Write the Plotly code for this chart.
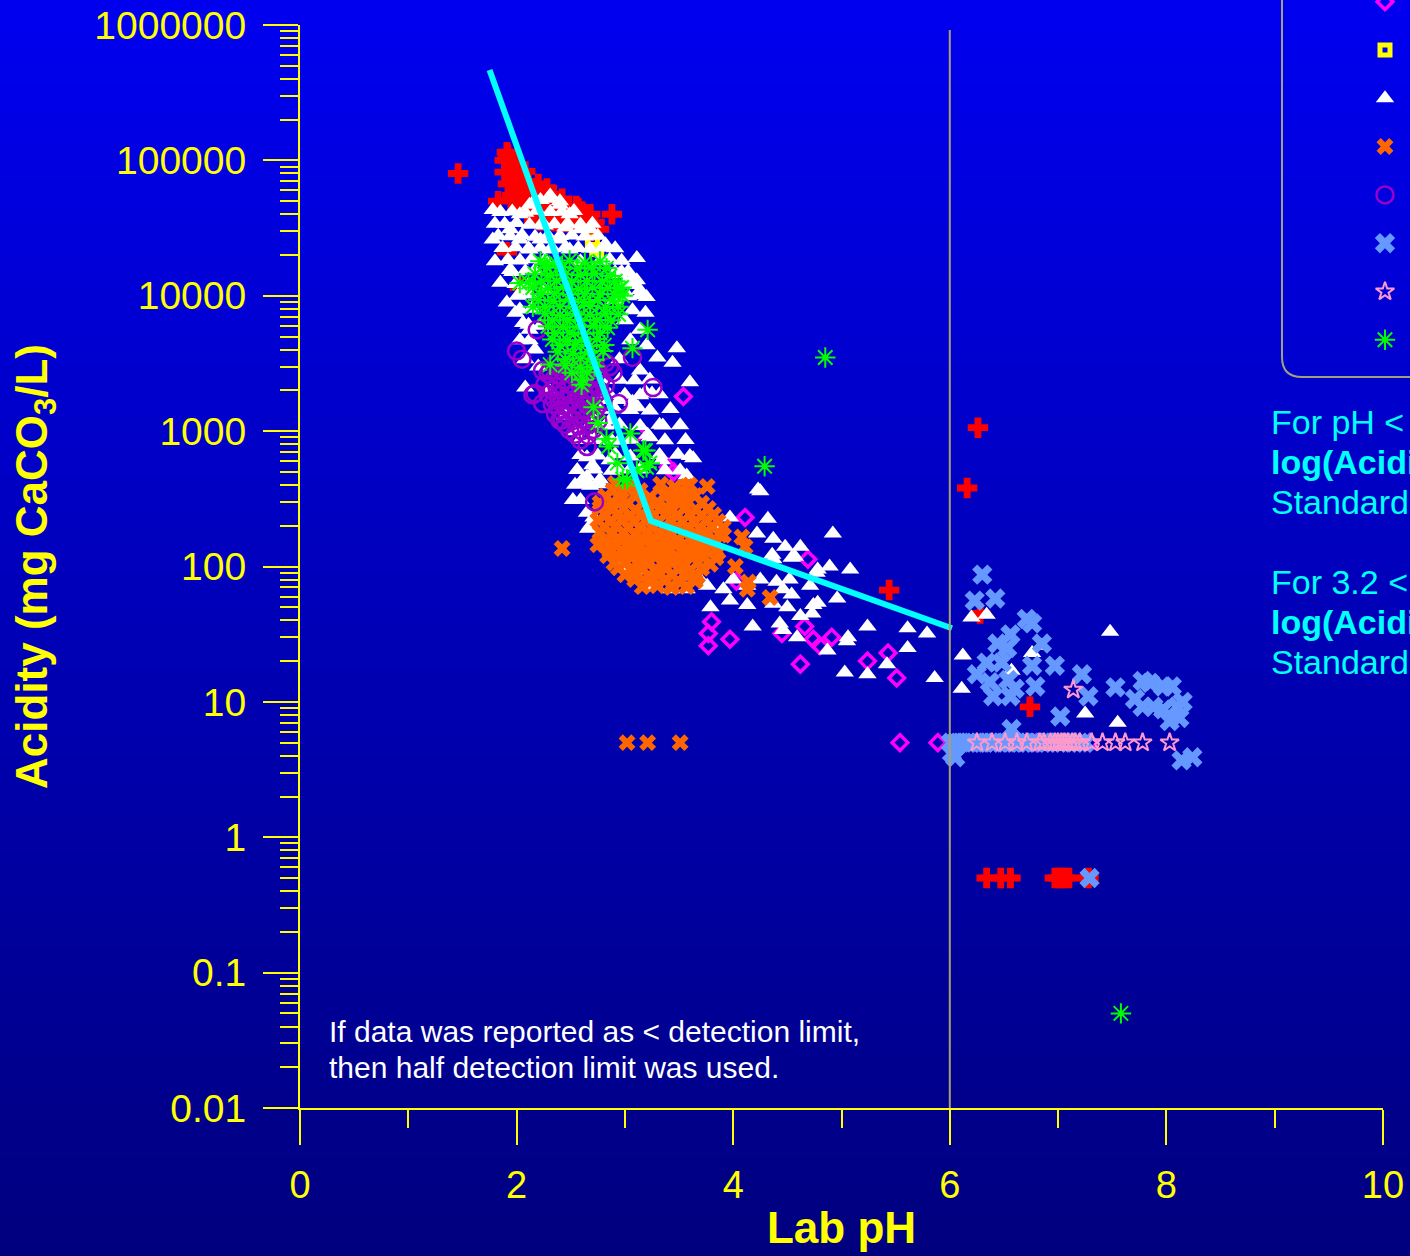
import plotly.graph_objects as go

# ---------------- data (Lab pH, Acidity mg CaCO3/L) ----------------
red_ph = [1.46, 1.91, 1.92, 1.95, 1.98, 2.02, 2.05, 2.00, 2.08, 2.12, 2.15, 2.20, 2.25, 2.30, 2.35, 2.40,
          2.45, 2.50, 2.55, 2.60, 2.65, 2.02, 2.10, 1.97, 2.10, 2.18, 1.83, 1.91, 2.03, 2.88, 2.70, 2.62,
          1.89, 1.96, 1.89, 1.99, 2.08, 1.92, 2.01, 2.11, 2.20, 1.96, 2.05, 2.14, 2.23, 2.33,
          2.01, 2.11, 2.20, 2.29, 2.38, 2.47, 2.57, 2.22, 2.35, 2.49, 2.63, 2.72,
          2.28, 2.42, 2.55, 2.68, 2.76,
          6.26, 6.16, 5.44, 6.74, 6.28, 6.34, 6.47, 6.56, 6.97, 7.00, 7.03, 7.06, 7.10, 7.28]
red_ac = [80000, 115000, 110000, 95000, 85000, 75000, 70000, 62000, 60000, 55000, 50000, 48000, 45000,
          42000, 40000, 38000, 35000, 40000, 36000, 42000, 33000, 45000, 40000, 52000, 70000, 58000, 50000,
          21000, 11500, 40000, 30000, 36000,
          100000, 98000, 82000, 81000, 83000, 67000, 68000, 66000, 67000, 55000, 56000, 54000, 55000, 56000,
          44500, 45000, 44000, 44500, 45500, 44000, 44500, 36000, 35500, 36500, 36000, 35000,
          62000, 52000, 46000, 40000, 31000,
          1060, 380, 67, 9.2, 45, 0.5, 0.5, 0.5, 0.5, 0.5, 0.5, 0.5, 0.5, 0.5]

mag_ph = [3.54, 3.11, 3.40, 3.45, 4.11, 4.69, 3.80, 3.77, 3.97, 3.77, 4.66, 4.74, 4.91, 4.62, 5.24, 4.45,
          4.80, 5.43, 5.51, 4.03, 5.54, 5.89, 6.30, 6.80, 7.29]
mag_ac = [1800, 960, 540, 500, 230, 113, 39, 32, 29, 26, 36, 29, 30, 19, 20, 32, 26, 23, 15, 78, 5, 5, 5, 5, 5]

ylw_ph = [2.74, 2.70]
ylw_ac = [22000, 25000]

wht_ph = [1.78, 1.80, 1.78, 1.80, 1.85, 1.91, 1.99, 2.06, 2.08,
          1.94, 2.03, 2.12, 2.22, 2.31, 2.40, 2.49, 2.59, 2.68, 2.82, 2.77,
          2.03, 2.12, 2.22, 2.31, 2.40, 2.49, 2.59, 2.26, 2.45, 2.17, 2.08, 2.26, 1.94,
          3.11, 2.97, 3.11, 3.14, 3.20, 2.95, 3.07, 3.19, 3.30, 3.48, 3.44, 3.60, 3.19, 3.25, 3.07, 3.12,
          3.35, 3.23, 3.63, 3.57, 3.34,
          4.23, 3.97, 4.32, 4.22, 4.92, 3.88, 4.37, 4.48, 4.62, 4.57, 4.37, 5.08, 4.89, 4.77, 4.52, 4.40,
          4.25, 4.13, 4.00, 3.91, 3.76, 3.67, 3.57, 3.42, 3.28,
          3.79, 3.97, 4.13, 4.37, 4.50, 4.62, 4.74, 4.96, 4.18, 4.43, 4.46, 4.59, 4.87, 5.05, 5.24, 3.02, 3.11,
          2.61, 2.52, 2.71, 2.68, 4.25, 4.54, 4.36, 4.46, 4.54, 4.78, 4.73, 4.78, 4.71, 5.06, 5.03, 5.24,
          5.61, 5.79, 5.61, 5.42, 5.86, 6.11, 6.12, 6.20, 6.34, 6.76, 6.57, 6.85, 7.48, 7.25, 7.55,
          3.21, 2.65, 2.70, 2.59, 2.65, 2.59, 2.70, 2.98, 3.26,
          2.77, 2.86, 2.95, 2.77, 2.86, 2.95, 3.05, 3.14, 2.77, 2.68, 2.82, 2.95, 3.05, 3.14, 3.00, 2.91,
          2.95, 2.72, 2.03, 2.08, 2.17, 2.12, 3.14, 3.20, 2.65, 2.66,
          2.17, 2.29, 2.40,
          1.85, 1.96, 2.08, 2.19, 2.31, 2.42, 2.53,
          1.89, 2.00, 2.12, 2.23, 2.35, 2.47, 2.59, 2.70,
          1.83, 1.94, 2.05, 2.17, 2.29, 2.40, 2.51, 2.63, 2.75,
          1.87, 1.99, 2.11, 2.22, 2.33, 2.45, 2.57, 2.68, 2.80, 2.91,
          1.92, 2.03, 2.14, 2.26, 2.86, 2.97,
          1.96, 2.08, 2.91, 3.03,
          1.99, 2.11, 3.00, 3.09,
          2.01, 2.12, 3.03, 3.14,
          2.03, 2.14, 3.07, 2.11, 2.22, 2.12,
          2.82, 2.95, 3.09, 3.23,
          2.86, 3.00, 3.14, 3.32,
          2.77, 2.91, 3.05, 3.23, 3.42,
          2.68, 2.82, 2.95, 3.14, 3.32, 3.51,
          2.59, 2.72, 2.88, 3.05, 3.37, 3.56,
          2.59, 2.75, 2.91, 3.32, 3.49, 3.60,
          2.56, 2.72, 2.88, 3.05, 3.37, 3.51,
          2.54, 2.68, 2.77,
          2.20, 2.30, 2.45, 2.55]
wht_ac = [43000, 34000, 26000, 18000, 12500, 8900, 7500, 6300, 2100,
          31000, 40000, 47000, 51000, 55000, 47000, 40000, 31000, 31000, 24000, 18000,
          26000, 22000, 26000, 22000, 26000, 22000, 18000, 33000, 32000, 15500, 11000, 11000, 15500,
          19000, 15000, 13000, 11000, 9800, 14500, 13500, 7500, 3500, 4100, 3200, 2300, 1950, 1900, 1650, 1500,
          1100, 900, 630, 470, 610,
          370, 230, 225, 175, 175, 195, 160, 140, 140, 118, 113, 95, 100, 90, 80, 77,
          80, 72, 80, 68, 72, 85, 68, 68, 72,
          50, 56, 52, 53, 50, 43, 52, 58, 36, 38, 34, 30, 24, 28, 36, 97, 94,
          440, 310, 230, 200, 360, 116, 122, 68, 62, 54, 45, 95, 72, 30, 16.5, 16,
          35, 32, 25, 19, 15, 12.5, 22, 42, 44, 23, 17, 26, 33, 8.2, 7.0,
          940, 640, 560, 410, 460, 310, 195, 108, 72,
          1700, 1200, 860, 860, 610, 520, 650, 520, 440, 860, 2400, 3400, 4700, 5600, 6600, 9300,
          1700, 1200, 4700, 3400, 4000, 5600, 2800, 4300, 250, 190,
          51000, 52000, 50000,
          41600, 42000, 41000, 42500, 41500, 41800, 42200,
          33900, 34500, 33500, 34000, 33800, 34200, 33600, 34100,
          27700, 27500, 28000, 27300, 27800, 27600, 27900, 27400, 27700,
          22500, 22800, 22300, 22600, 22400, 22700, 22500, 22200, 22600, 22400,
          18400, 18200, 18600, 18300, 18500, 18100,
          15000, 15200, 14900, 15100,
          12200, 12100, 12300, 12000,
          10000, 10200, 9900, 10100,
          7900, 8000, 7800, 6100, 6000, 4700,
          2390, 2400, 2380, 2410,
          1850, 1860, 1840, 1870,
          1440, 1450, 1430, 1420, 1460,
          1110, 1100, 1120, 1090, 1115, 1105,
          860, 870, 850, 865, 855, 860,
          667, 660, 675, 665, 670, 655,
          517, 520, 510, 525, 515, 512,
          401, 395, 405,
          3000, 2000, 1300, 1000]

org_ph = [2.42, 3.02, 3.21, 3.51, 3.76, 3.57, 3.91, 4.08, 4.11, 4.02, 4.14, 4.34, 3.43, 2.75, 2.89, 4.13,
          2.91, 3.05, 3.33, 3.46, 3.60,
          2.82, 2.95, 3.09, 3.23, 3.37, 3.51, 3.65,
          2.77, 2.88, 2.99, 3.10, 3.21, 3.32, 3.43, 3.55, 3.66, 3.77,
          2.75, 2.86, 2.97, 3.08, 3.19, 3.31, 3.42, 3.53, 3.64, 3.75, 3.86,
          2.77, 2.88, 2.99, 3.10, 3.21, 3.32, 3.43, 3.55, 3.66, 3.77, 3.88,
          2.81, 2.92, 3.03, 3.14, 3.25, 3.36, 3.47, 3.58, 3.69, 3.80,
          2.84, 2.95, 3.07, 3.18, 3.29, 3.40, 3.51, 3.62, 3.73, 3.84,
          2.94, 3.05, 3.16, 3.27, 3.38, 3.49, 3.60, 3.71,
          3.09, 3.23, 3.37, 3.51, 3.65,
          2.97, 3.14, 3.40, 3.53,
          2.77, 2.88, 3.03, 3.16, 3.30, 3.43, 3.57, 3.71,
          2.82, 2.94, 3.05, 3.16, 3.27, 3.38, 3.49, 3.60, 3.71, 3.82,
          2.81, 2.92, 3.03, 3.14, 3.25, 3.36, 3.47, 3.58, 3.69, 3.80, 3.91,
          2.83, 2.94, 3.05, 3.16, 3.27, 3.38, 3.49, 3.60, 3.71, 3.82,
          2.86, 2.97, 3.08, 3.19, 3.31, 3.42, 3.53, 3.64, 3.75, 3.86,
          2.90, 3.01, 3.12, 3.23, 3.34, 3.45, 3.56, 3.67, 3.79,
          3.00, 3.11, 3.22, 3.33, 3.44, 3.55, 3.67,
          3.16, 3.30, 3.43, 3.57]
org_ac = [136, 5, 5, 5, 390, 390, 170, 165, 140, 100, 77, 59, 72, 145, 365, 68,
          410, 395, 405, 385, 400,
          330, 320, 335, 325, 330, 320, 335,
          270, 262, 268, 260, 272, 265, 260, 270, 262, 268,
          220, 214, 222, 215, 219, 213, 221, 216, 212, 220, 215,
          180, 175, 178, 173, 181, 176, 172, 179, 174, 177, 171,
          146, 142, 147, 141, 145, 143, 148, 140, 144, 146,
          120, 116, 119, 115, 121, 117, 114, 120, 118, 116,
          98, 95, 97, 94, 99, 96, 93, 97,
          80, 77, 79, 76, 78,
          361, 365, 358, 362,
          295, 298, 292, 296, 300, 294, 297, 293,
          241, 244, 238, 242, 240, 245, 239, 243, 237, 241,
          196, 199, 193, 197, 195, 198, 194, 196, 192, 197, 195,
          160, 162, 158, 161, 159, 163, 157, 160, 162, 158,
          130, 132, 128, 131, 129, 133, 127, 130, 132, 128,
          106, 108, 104, 107, 105, 109, 103, 106, 104,
          87, 89, 85, 88, 86, 88, 85,
          71, 72, 70, 71]

pur_ph = [2.19, 2.33, 2.00, 2.05, 2.17, 2.24, 2.82, 2.89, 3.26, 2.94, 3.07, 2.86, 2.72, 2.15, 2.24, 2.40,
          2.59, 2.65,
          2.35, 2.49, 2.63,
          2.29, 2.40, 2.51, 2.62, 2.73,
          2.26, 2.37, 2.48, 2.59, 2.71, 2.82,
          2.29, 2.40, 2.51, 2.62, 2.73,
          2.33, 2.44, 2.55, 2.66, 2.77,
          2.36, 2.47, 2.59, 2.70,
          2.45, 2.57, 2.68,
          2.54, 2.66,
          2.31, 2.42, 2.53, 2.64, 2.75,
          2.34, 2.45, 2.56, 2.67, 2.78,
          2.33, 2.44, 2.55, 2.66, 2.77,
          2.35, 2.47, 2.58, 2.69, 2.80,
          2.40, 2.51, 2.62, 2.73,
          2.42, 2.53, 2.64, 2.75,
          2.49, 2.60, 2.71]
pur_ac = [5600, 6600, 3900, 3400, 1900, 2800, 3200, 2700, 2100, 1600, 3500, 3000, 300, 1850, 1600, 1200,
          860, 770,
          3100, 3000, 3150,
          2650, 2550, 2620, 2580, 2640,
          2200, 2150, 2230, 2170, 2210, 2180,
          1870, 1830, 1860, 1840, 1880,
          1580, 1540, 1570, 1550, 1590,
          1330, 1300, 1340, 1310,
          1120, 1100, 1130,
          950, 930,
          2800, 2780, 2830, 2790, 2810,
          2400, 2380, 2420, 2390, 2410,
          2000, 2020, 1980, 2010, 1990,
          1700, 1690, 1720, 1710, 1680,
          1430, 1440, 1420, 1450,
          1210, 1200, 1220, 1190,
          1020, 1010, 1030]

blu_ph = [6.30, 6.23, 6.42, 6.71, 6.76, 6.56, 6.53, 6.44, 6.85, 6.34, 6.48, 6.76, 6.97, 6.25, 6.37, 6.54,
          6.60, 6.40, 6.56, 6.79, 7.22, 7.28, 7.53, 7.02, 6.57, 7.71, 7.78, 7.85, 7.78, 7.88, 7.97, 8.05,
          7.97, 8.10, 8.15, 8.03, 8.12, 8.14, 8.24, 6.02, 6.05, 7.29,
          6.01, 6.05, 6.08, 6.13, 6.17, 6.20, 6.26, 6.30, 6.33, 6.38, 6.42, 6.47, 6.50, 6.55, 6.60, 6.63,
          6.68, 6.72, 6.77, 6.80, 6.86, 6.90, 6.95, 7.00, 7.04, 7.10, 7.15, 7.20, 7.25]
blu_ac = [87, 56, 58, 41, 38, 31.5, 25, 27, 27, 19.5, 19.5, 18.5, 18.5, 16, 14, 14.5,
          12.5, 11, 11, 13, 16, 11, 12.8, 7.8, 6.3, 10.5, 14.3, 13.8, 9.2, 9.2, 13, 13,
          8.8, 9.2, 10, 7.2, 7.6, 3.7, 3.9, 4.2, 3.9, 0.5,
          5, 5, 5, 5, 5, 5, 5, 5, 5, 5, 5, 5, 5, 5, 5, 5,
          5, 5, 5, 5, 5, 5, 5, 5, 5, 5, 5, 5, 5]

pnk_ph = [6.25, 6.39, 6.51, 6.62, 6.71, 6.83, 6.87, 6.93, 6.97, 7.00, 7.03, 7.06, 7.09, 7.13, 7.16, 7.20,
          7.31, 7.41, 7.53, 7.62, 7.78, 8.03, 7.14]
pnk_ac = [5, 5, 5, 5, 5, 5, 5, 5, 5, 5, 5, 5, 5, 5, 5, 5,
          5, 5, 5, 5, 5, 5, 12.3]

grn_ph = [4.85, 4.29, 7.58, 3.21, 2.97, 3.07, 2.71, 2.75, 2.93, 3.19, 3.20, 2.98, 3.05, 2.85, 2.11, 2.15,
          2.26, 2.31, 2.61, 2.60, 2.83, 3.02, 3.17, 3.23, 3.11, 2.03, 2.98,
          2.22, 2.36, 2.49, 2.63, 2.77,
          2.17, 2.31, 2.45, 2.59, 2.72, 2.86,
          2.15, 2.29, 2.43, 2.57, 2.70, 2.84, 2.95,
          2.20, 2.34, 2.48, 2.62, 2.75, 2.89,
          2.26, 2.40, 2.54, 2.68, 2.82, 2.94,
          2.29, 2.43, 2.57, 2.71, 2.84,
          2.33, 2.47, 2.60, 2.74,
          2.38, 2.52, 2.66, 2.80,
          2.45, 2.59, 2.72,
          2.28, 2.42, 2.56, 2.69, 2.83,
          2.23, 2.37, 2.51, 2.65, 2.79, 2.91,
          2.22, 2.35, 2.49, 2.63, 2.77, 2.90,
          2.26, 2.40, 2.54, 2.68, 2.82, 2.94,
          2.33, 2.47, 2.60, 2.74, 2.87,
          2.35, 2.49, 2.63, 2.77,
          2.40, 2.54, 2.68, 2.81,
          2.45, 2.59, 2.72,
          2.51, 2.65]
grn_ac = [3500, 550, 0.05, 5600, 11500, 4100, 1500, 1150, 580, 720, 540, 440, 960, 770, 12600, 8300,
          17000, 3100, 2400, 2200, 880, 440, 720, 580, 510, 12400, 10000,
          18000, 17500, 18200, 17600, 17900,
          14500, 14100, 14400, 14200, 14600, 14000,
          11500, 11300, 11600, 11200, 11500, 11400, 11300,
          9300, 9100, 9400, 9000, 9300, 9200,
          7400, 7200, 7350, 7250, 7400, 7300,
          5950, 5850, 5900, 6000, 5800,
          4750, 4650, 4700, 4800,
          3850, 3750, 3800, 3900,
          3050, 2950, 3000,
          16100, 16300, 15900, 16200, 16000,
          12800, 12900, 12700, 12850, 12750, 12800,
          10300, 10400, 10200, 10350, 10250, 10300,
          8300, 8350, 8250, 8400, 8200, 8300,
          6600, 6650, 6550, 6620, 6580,
          5300, 5350, 5250, 5320,
          4300, 4350, 4250, 4320,
          3400, 3450, 3380,
          2700, 2720]

trend_ph = [1.75, 3.24, 6.02]
trend_ac = [466000, 217, 35]

y_tickvals = [0.01, 0.1, 1, 10, 100, 1000, 10000, 100000, 1000000]
y_ticktext = ["0.01", "0.1", "1", "10", "100", "1000", "10000", "100000", "1000000"]
x_tickvals = [0, 2, 4, 6, 8, 10]
x_ticktext = ["0", "2", "4", "6", "8", "10"]

note_lines = ["If data was reported as < detection limit,", "then half detection limit was used."]
fit_lines = ["For pH < 3.2:", "<b>log(Acidity) = 9.54 - 2.22 pH</b>", "Standard error",
             "", "For 3.2 < pH < 6:", "<b>log(Acidity) = 3.25 - 0.29 pH</b>", "Standard error"]

# ---------------- styles / layout ----------------
FONT = "Liberation Sans, Arial, Helvetica, sans-serif"
YELLOW = "#FFFF00"
series = [
    # name, x, y, symbol, size, colour, line width
    ("red", red_ph, red_ac, "cross", 17, "#FF0000", 0),
    ("magenta", mag_ph, mag_ac, "diamond-open", 12, "#FF00FF", 3.5),
    ("yellow", ylw_ph, ylw_ac, "square-open", 10, "#FFFF00", 5),
    ("white", wht_ph, wht_ac, "triangle-up", 16, "#FFFFFF", 0),
    ("orange", org_ph, org_ac, "x", 15, "#FF6600", 0),
    ("purple", pur_ph, pur_ac, "circle-open", 17, "#9900CC", 2.5),
    ("blue", blu_ph, blu_ac, "x", 18, "#6699FF", 0),
    ("pink", pnk_ph, pnk_ac, "star-open", 14, "#FF99CC", 2),
    ("green", grn_ph, grn_ac, "asterisk-open", 17, "#00FF00", 2),
]

W, H = 1410, 1256
ML, MR, MT, MB = 300, 0, 0, 148          # paper = full area right of / above the axes
PX_R, PX_T = 1383, 25                    # plot-area right edge and top edge (pixels)
PPW, PPH = W - ML - MR, H - MT - MB      # paper size in pixels


def fx(px):
    return (px - ML) / PPW


def fy(py):
    return (H - MB - py) / PPH


fig = go.Figure()

for name, xs, ys, sym, size, col, lw in series:
    fig.add_trace(go.Scatter(
        x=xs, y=ys, mode="markers", name=name, showlegend=False, hoverinfo="skip",
        marker=dict(symbol=sym, size=size, color=col, line=dict(color=col, width=lw))))

fig.add_trace(go.Scatter(x=trend_ph, y=trend_ac, mode="lines", showlegend=False, hoverinfo="skip",
                         line=dict(color="#00FFFF", width=6)))

# legend keys (legend text lies beyond the right edge of the picture)
key_px, key_py0, key_dy = 1385, -46.6, 48.3
for i, (name, xs, ys, sym, size, col, lw) in enumerate(series):
    fig.add_trace(go.Scatter(
        x=[fx(key_px)], y=[fy(key_py0 + i * key_dy)], xaxis="x2", yaxis="y2", mode="markers",
        cliponaxis=False, showlegend=False, hoverinfo="skip",
        marker=dict(symbol=sym, size=size, color=col, line=dict(color=col, width=lw))))

# background gradient
shapes = []
nb = 90
top_c, bot_c = 240, 126
for i in range(nb):
    py0 = H * i / nb
    py1 = H * (i + 1) / nb + 1
    b = round(top_c + (bot_c - top_c) * (i + 0.5) / nb)
    shapes.append(dict(type="rect", xref="paper", yref="paper", layer="below",
                       x0=fx(-5), x1=fx(W + 5), y0=fy(py1), y1=fy(py0),
                       fillcolor=f"rgb(0,0,{b})", line=dict(width=0)))
# vertical reference line at pH 6
shapes.append(dict(type="line", xref="x", yref="paper", x0=6, x1=6, y0=fy(H - MB), y1=fy(30),
                   line=dict(color="#A8A070", width=2), layer="above"))
# legend frame (rounded bottom-left corner)
fl, fb, rad = 1282, 377, 20
shapes.append(dict(type="path", xref="paper", yref="paper",
                   path=(f"M {fx(fl)},{fy(-20)} L {fx(fl)},{fy(fb - rad)} "
                         f"Q {fx(fl)},{fy(fb)} {fx(fl + rad)},{fy(fb)} L {fx(W + 20)},{fy(fb)}"),
                   line=dict(color="#A0A080", width=2)))

annotations = []
for i, t in enumerate(note_lines):
    annotations.append(dict(text=t, xref="paper", yref="paper", x=fx(327), y=fy(1031 + 36 * i),
                            xanchor="left", yanchor="middle", showarrow=False,
                            font=dict(color="#FFFFFF", size=30, family=FONT)))
for i, t in enumerate(fit_lines):
    if not t:
        continue
    annotations.append(dict(text=t, xref="paper", yref="paper", x=fx(1269), y=fy(422 + 40 * i),
                            xanchor="left", yanchor="middle", showarrow=False,
                            font=dict(color="#00FFFF", size=34, family=FONT)))

minor_y = [k * 10.0 ** e for e in range(-2, 6) for k in range(2, 10)]

fig.update_layout(
    width=W, height=H,
    margin=dict(l=ML, r=MR, t=MT, b=MB, autoexpand=False),
    paper_bgcolor="rgb(0,0,180)", plot_bgcolor="rgba(0,0,0,0)",
    font=dict(family=FONT, color=YELLOW),
    shapes=shapes, annotations=annotations,
    xaxis=dict(domain=[0, fx(PX_R)], range=[0, 10], tickmode="array", tickvals=x_tickvals,
               ticktext=x_ticktext, anchor="y",
               showgrid=False, zeroline=False, showline=True, linecolor=YELLOW, linewidth=2,
               ticks="outside", ticklen=35, tickwidth=2, tickcolor=YELLOW,
               tickfont=dict(size=38, color=YELLOW, family=FONT), ticklabelstandoff=7,
               minor=dict(tickmode="linear", dtick=1, ticks="outside", ticklen=18, tickwidth=2,
                          tickcolor=YELLOW, showgrid=False),
               title=dict(text="<b>Lab pH</b>", font=dict(size=44, color=YELLOW, family=FONT), standoff=8)),
    yaxis=dict(domain=[0, fy(PX_T)], type="log", range=[-2, 6], tickmode="array", tickvals=y_tickvals,
               ticktext=y_ticktext, anchor="x",
               showgrid=False, zeroline=False, showline=True, linecolor=YELLOW, linewidth=2,
               ticks="outside", ticklen=35, tickwidth=2, tickcolor=YELLOW,
               tickfont=dict(size=39, color=YELLOW, family=FONT), ticklabelstandoff=9,
               minor=dict(tickmode="array", tickvals=minor_y, ticks="outside", ticklen=18, tickwidth=2,
                          tickcolor=YELLOW, showgrid=False),
               title=dict(text="<b>Acidity (mg CaCO<sub>3</sub>/L)</b>",
                          font=dict(size=44, color=YELLOW, family=FONT), standoff=33)),
    xaxis2=dict(domain=[0, 1], range=[0, 1], anchor="y2", visible=False, fixedrange=True),
    yaxis2=dict(domain=[0, 1], type="linear", range=[0, 1], anchor="x2", visible=False, fixedrange=True),
    showlegend=False,
)

fig.write_html("out.html", config={"displayModeBar": False},
               post_script="document.body.style.margin='0';document.body.style.overflow='hidden';")
